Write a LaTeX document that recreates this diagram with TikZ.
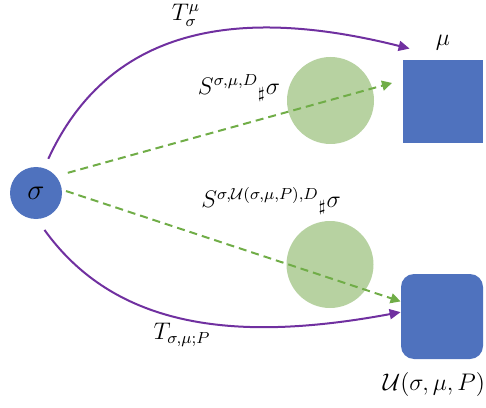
\documentclass[tikz,border=0pt]{standalone}
\usepackage{amsmath, amssymb}
\usepackage{tikz}
\usetikzlibrary{arrows.meta,positioning}
\usepackage{xcolor}
\definecolor{nodeblue}{RGB}{79,114,190}
\definecolor{ballgreen}{RGB}{183,210,161}
\definecolor{dashgreen}{RGB}{112,173,71}
\definecolor{mappurple}{RGB}{112,48,160}

\begin{document}
\begin{tikzpicture}[
        x=0.5pt, y=0.5pt,
        src/.style={circle, fill=nodeblue, minimum size=26pt, inner sep=0pt, font=\Large},
        tgt/.style={rectangle, fill=nodeblue, minimum width=40pt, minimum height=41.5pt, inner sep=0pt},
        ball/.style={circle, fill=ballgreen, minimum size=43.5pt, inner sep=0pt},
        lbl/.style={font=\large},
        slbl/.style={font=\fontsize{11.5}{13}\selectfont},
        tmap/.style={-{Triangle[length=5.5pt,width=5pt]}, line width=1pt, mappurple},
        smap/.style={-{Triangle[length=5pt,width=5pt]}, line width=1pt, dashgreen, dash pattern=on 4pt off 2.5pt}
    ]
        \useasboundingbox (0,0) rectangle (486,407);

        \node[src] (sig) at (36,214) {$\sigma$};
        \node[tgt] (mu) at (443,305.5) {};
        \node[tgt, rounded corners=6.5pt, minimum width=41pt, minimum height=42.5pt] (U) at (442,90.5) {};
        \node[lbl, above=1pt of mu] (mulab) {$\mu$};
        \node[lbl, below=3pt of U, xshift=-4pt] (Ulab) {$\mathcal{U}(\sigma,\mu,P)$};

        \node[ball] (b1) at (330.5,306.5) {};
        \node[ball] (b2) at (330,142.5) {};

        \node[lbl] (ttop) at (186,392) {$T_\sigma^\mu$};
        \node[lbl] (tbot) at (182,72) {$T_{\sigma,\mu;P}$};
        \node[slbl] (s1) at (239,319) {$S^{\sigma,\mu,D}{}_\sharp\sigma$};
        \node[slbl] (s2) at (271,206) {$S^{\sigma,\mathcal{U}(\sigma,\mu,P),D}{}_\sharp\sigma$};

        \draw[smap, shorten <=6pt, shorten >=5.5pt] (sig.40) -- (mu.152);
        \draw[smap, shorten <=2pt] (sig.7) -- (U.160);

        \draw[tmap, shorten <=5pt] (sig.72) .. controls (115,393) and (260,396) .. ([shift={(3.5pt,5.5pt)}]mu.north west);
        \draw[tmap, shorten <=6.5pt] (sig.272) .. controls (120,72) and (250,67) .. (U.174);
    \end{tikzpicture}
\end{document}
